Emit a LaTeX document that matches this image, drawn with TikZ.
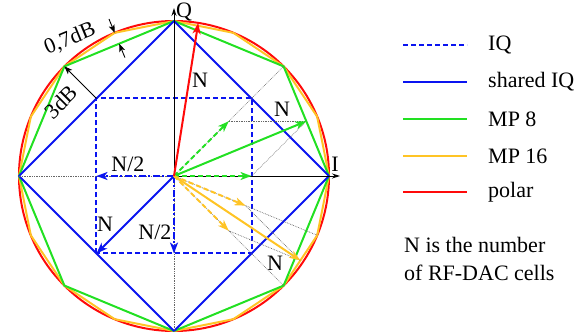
\documentclass[tikz,border=0pt]{standalone}
\usepackage{fontspec}
\setmainfont{Liberation Serif}
\newfontfamily\figfont{Liberation Serif}
\usetikzlibrary{arrows.meta,positioning,calc}
\definecolor{iqBlue}{HTML}{0A14F0}
\definecolor{mpGreen}{HTML}{22E022}
\definecolor{mpOrange}{HTML}{FFC425}
\definecolor{polRed}{HTML}{FF0A0A}

\begin{document}
\begin{tikzpicture}[x=1pt,y=1pt,font=\figfont\fontsize{22}{28}\selectfont,
  poly/.style={line width=2pt,line join=round},
  vec/.style={line width=2pt,-{Stealth[length=11pt,width=8pt,inset=3pt]}},
  dashline/.style={dash pattern=on 5pt off 3pt},
  dashdot/.style={dash pattern=on 7pt off 2.5pt on 2pt off 2.5pt},
  guide/.style={black!60,densely dotted,line width=0.7pt},
  gainarrow/.style={line width=0.9pt,-{Stealth[length=8pt,width=6pt,inset=2pt]}},
  lbl/.style={inner sep=1pt}]
  \useasboundingbox (-174,-156) rectangle (410,176);
  \def\R{155}
  \coordinate (O) at (0,0);

  % outlines: polar, MP 16, MP 8, shared IQ, IQ
  \draw[polRed,poly] (O) circle (\R);
  \draw[mpOrange,poly] (0:\R) \foreach \a in {22.5,45,...,337.5}{ -- (\a:\R)} -- cycle;
  \draw[mpGreen,poly] (0:\R) \foreach \a in {45,90,...,315}{ -- (\a:\R)} -- cycle;
  \draw[iqBlue,poly] (0:\R) -- (90:\R) -- (180:\R) -- (270:\R) -- cycle;
  \draw[iqBlue,poly,dashline] (-\R/2,-\R/2) rectangle (\R/2,\R/2);

  % axes
  \coordinate (Qtip) at (0,168);
  \coordinate (Itip) at (166,0);
  \draw[line width=0.9pt,-{Stealth[length=8pt,width=5pt]}] (O) -- (Qtip);
  \draw[line width=0.9pt,-{Stealth[length=8pt,width=5pt]}] (O) -- (Itip);
  \node[lbl,anchor=west] (qlab) at (1,164) {Q};
  \node[lbl] (ilab) at (161,12) {I};
  \draw[guide] (O) -- (180:\R);
  \draw[guide] (O) -- (270:\R);

  % IQ vectors
  \coordinate (bx) at (-\R/2,0);
  \coordinate (by) at (0,-\R/2);
  \coordinate (bd) at (-\R/2,-\R/2);
  \draw[iqBlue,vec,dashdot] (O) -- (bx);
  \draw[iqBlue,vec,dashdot] (O) -- (by);
  \draw[iqBlue,vec] (O) -- (bd);
  \node[lbl] (bxlab) at (-46,12) {N/2};
  \node[lbl] (bylab) at (-19,-56) {N/2};
  \node[lbl] (bdlab) at (-69,-48) {N};

  % MP 8 vectors
  \coordinate (g1) at (0:\R/2);
  \coordinate (g2) at (45:\R/2);
  \coordinate (gs) at ($(g1)+(g2)$);
  \draw[guide] (O) -- (45:\R);
  \draw[guide] (g2) -- (gs);
  \draw[guide] (g1) -- (gs);
  \draw[mpGreen,vec,dashline] (O) -- (g1);
  \draw[mpGreen,vec,dashline] (O) -- (g2);
  \draw[mpGreen,vec] (O) -- (gs);
  \node[lbl] (glab) at (108,67) {N};

  % MP 16 vectors
  \coordinate (o1) at (-22.5:\R/2);
  \coordinate (o2) at (-45:\R/2);
  \coordinate (os) at ($(o1)+(o2)$);
  \draw[guide] (O) -- (-22.5:\R);
  \draw[guide] (O) -- (-45:\R);
  \draw[guide] (o1) -- (os);
  \draw[guide] (o2) -- (os);
  \draw[mpOrange,vec,dashline] (O) -- (o1);
  \draw[mpOrange,vec,dashline] (O) -- (o2);
  \draw[mpOrange,vec] (O) -- (os);
  \node[lbl] (olab) at (101,-87) {N};

  % polar vector
  \coordinate (rtip) at (81:\R);
  \draw[polRed,vec] (O) -- (rtip);
  \node[lbl] (rlab) at (26,96) {N};

  % gain steps
  \coordinate (c1) at (112.5:\R);
  \coordinate (e1) at (112.5:{\R*cos(22.5)});
  \coordinate (c1o) at (112.5:\R+15);
  \coordinate (e1i) at (112.5:{\R*cos(22.5)-15});
  \draw[gainarrow] (c1o) -- (c1);
  \draw[gainarrow] (e1i) -- (e1);
  \node[lbl,rotate=22.5] (dblab) at (-104,137) {0,7dB};
  \coordinate (v135) at (135:\R);
  \coordinate (sq135) at (-\R/2,\R/2);
  \draw[gainarrow,{Stealth[length=8pt,width=6pt,inset=2pt]}-] (v135) -- (sq135);
  \node[lbl,rotate=45] (tdblab) at (-113,74) {3dB};

  % legend
  \foreach \i/\y/\c/\s/\t in {1/131/iqBlue/dashline/IQ,2/94/iqBlue/solid/shared IQ,
      3/57/mpGreen/solid/MP 8,4/20/mpOrange/solid/MP 16,5/-16/polRed/solid/polar}{
    \coordinate (ls\i) at (229,\y);
    \coordinate (le\i) at (293,\y);
    \draw[\c,line width=1.5pt,\s] (ls\i) -- (le\i);
    \node[lbl,anchor=west] (lt\i) at (313,\y) {\t};
  }
  \node[lbl,anchor=north west,align=left] (note) at (229,-60) {N is the number\\of RF-DAC cells};
\end{tikzpicture}
\end{document}
